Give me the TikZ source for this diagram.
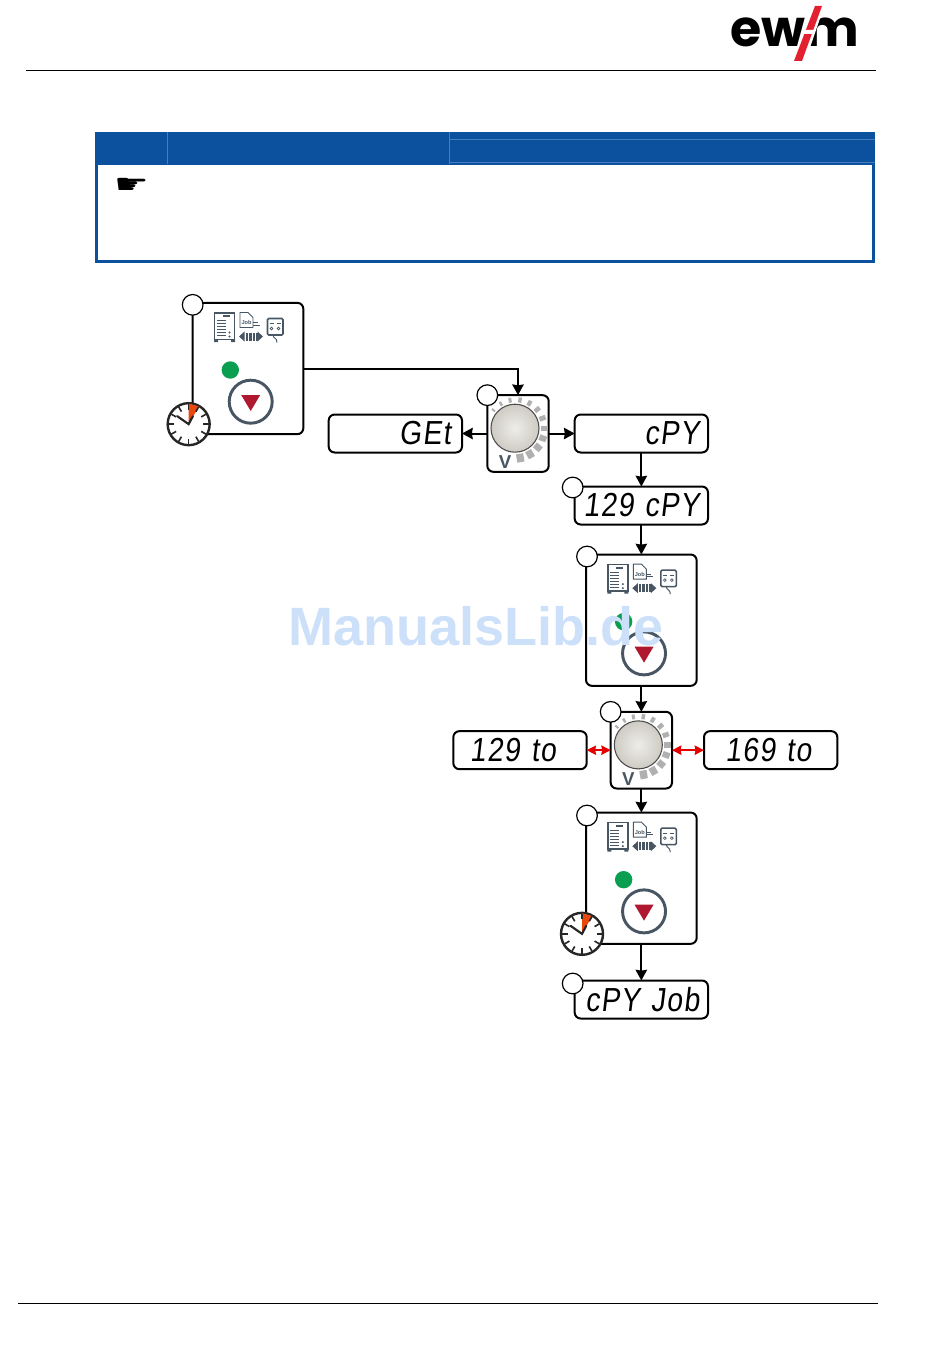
\documentclass[tikz,border=0pt]{standalone}
\usepackage{fontspec}
\usepackage{xcolor}
\usepackage{tikz}
\usetikzlibrary{arrows.meta,positioning,calc}
\setmainfont{Liberation Sans}
\newfontfamily\lcdfont[FakeStretch=0.85,FakeSlant=0.12,LetterSpace=4]{Liberation Sans}
\newfontfamily\handfont[FakeStretch=1.45]{DejaVu Sans}
\newfontfamily\logofont{Poppins}
\definecolor{headblue}{RGB}{11,81,158}
\definecolor{headline}{RGB}{70,125,190}
\definecolor{iconcol}{RGB}{72,86,100}
\definecolor{ledgreen}{RGB}{10,158,80}
\definecolor{btnred}{RGB}{176,24,47}
\definecolor{wedge}{RGB}{232,72,12}
\definecolor{logored}{RGB}{226,32,48}
\definecolor{wmblue}{RGB}{205,224,250}
\definecolor{knobin}{RGB}{238,237,232}
\definecolor{knobout}{RGB}{205,203,195}
\newcommand{\panelicons}[1]{%
  \begin{scope}[shift={(#1.center)}]
    \draw[iconline] (-33.5,-55.5) rectangle (-13.5,-29);
    \fill[iconcol] (-34,-29) rectangle (-30,-26.5) (-17,-29) rectangle (-13,-26.5);
    \fill[iconcol] (-25,-53.5) rectangle (-18,-51.5);
    \foreach \y in {-48,-45,-42,-39,-36,-33} \draw[iconcol, line width=.85pt] (-31,\y) -- (-22,\y);
    \fill[iconcol] (-18.5,-36) circle (1.1) (-18.5,-32) circle (1.1);
    \draw[iconline, line width=.7pt] (-8,-56) -- (0,-56) -- (5,-51) -- (5,-41) -- (-8,-41) -- cycle;
    \node[font=\bfseries\fontsize{4.2}{4.2}\selectfont, text=iconcol, inner sep=0pt] (#1job) at (-1.5,-46) {Job};
    \draw[iconcol, line width=.6pt] (5,-46) -- (10,-46) (5,-43.5) -- (12,-43.5);
    \fill[iconcol] (-9,-32) -- (-3.5,-37) -- (-3.5,-27) -- cycle (15,-32) -- (9.5,-37) -- (9.5,-27) -- cycle;
    \foreach \x in {-2.5,1,4.5,7.5} \fill[iconcol] (\x,-36) rectangle +(2.5,8);
    \draw[iconline, rounded corners=1pt] (19.5,-50) rectangle (35,-33.5);
    \draw[iconcol, line width=1pt] (22,-45) -- (26,-45) (29,-45) -- (33,-45);
    \draw[iconcol, line width=.5pt] (23.5,-40) circle (1.4) (30.5,-40) circle (1.4);
    \draw[iconcol, line width=.7pt] (25,-33.5) .. controls (25,-30) and (29,-31) .. (29,-26);
    \fill[ledgreen] (-17.7,1.5) circle (8.7);
    \draw[iconcol, line width=2.2pt, fill=white] (2.7,33.2) circle (21.5);
    \fill[btnred] (-6.8,26.5) -- (12.2,26.5) -- (2.7,42.5) -- cycle;
  \end{scope}}
\newcommand{\knobdial}[1]{%
  \begin{scope}[shift={(#1.center)}]
    \foreach \i [evaluate=\i as \a using 220+20*\i, evaluate=\i as \w using 1.5+0.36*\i, evaluate=\i as \o using 30+0.4*\i] in {0,...,11}
      \draw[gray!62, line width=\w pt] ($(-3,-5.3)+(\a:26)$) -- ($(-3,-5.3)+(\a:\o)$);
    \shade[inner color=knobin, outer color=knobout, draw=black!70, line width=.8pt] (-3,-5.3) circle (24);
    \node[font=\bfseries\fontsize{14}{14}\selectfont, text=iconcol, inner sep=0pt] (#1v) at (-13,28.5) {V};
  \end{scope}}
\newcommand{\clockmarks}[1]{%
  \begin{scope}[shift={(#1.center)}]
    \fill[wedge] (0,0) -- (-90:20.5) -- (-60:20.5) -- cycle;
    \foreach \a in {0,30,...,330} \draw[black!85, line width=1.2pt] (\a:20) -- (\a:14.5);
    \draw[black!85, line width=1.6pt, line cap=round] (-145:14) -- (0,0) -- (-62:9);
  \end{scope}}
\begin{document}
\begin{tikzpicture}[x=.75pt, y=-.75pt,
  panel/.style={draw, line width=1.5pt, rounded corners=4.5pt, fill=white, outer sep=0pt,
                minimum width=83pt, minimum height=98.5pt},
  knob/.style={draw, line width=1.5pt, rounded corners=4.5pt, fill=white, outer sep=0pt,
               minimum width=46pt, minimum height=57.5pt},
  lcd/.style={draw, line width=1.5pt, rounded corners=4.5pt, fill=white, outer sep=0pt,
              minimum height=28.5pt, text width=87pt, inner xsep=6.5pt, inner ysep=0pt, align=right,
              font=\lcdfont\fontsize{25}{25}\selectfont},
  badge/.style={circle, draw, line width=.9pt, fill=white, minimum size=15.5pt, inner sep=0pt},
  clockface/.style={circle, draw=black!85, line width=1.8pt, fill=white, minimum size=31.5pt, inner sep=0pt},
  arr/.style={-{Stealth[length=8pt, width=8.5pt, inset=.6pt]}, line width=1.5pt},
  redarr/.style={{Stealth[length=7pt, width=7pt, inset=.6pt]}-{Stealth[length=7pt, width=7pt, inset=.6pt]},
                 red!90!black, line width=1.3pt},
  iconline/.style={draw=iconcol, line width=1.2pt},
  pagerule/.style={line width=.75pt}]
  \useasboundingbox (0,0) rectangle (950,1359);
  \draw[pagerule] (26,71) -- (876,71);
  \draw[pagerule] (18,1303) -- (878,1303);
  \node[font=\logofont\bfseries\fontsize{38}{38}\selectfont, inner sep=0pt] (logotext) at (794.5,32) {ewm};
  \fill[white] (812,4) -- (825,4) -- (805,62) -- (792,62) -- cycle;
  \fill[logored] (815,6) -- (822,6) -- (802,61) -- (794,61) -- cycle;
  \fill[white] (804,30) -- (814,30) -- (812,34) -- (802,34) -- cycle;
  \fill[headblue] (95,132) rectangle (875,164);
  \draw[headblue, line width=2.2pt] (96.5,164) rectangle (873.5,261.5);
  \draw[headline, line width=.5pt] (167,132) -- (167,164) (449,132) -- (449,164) (449,139) -- (875,139) (449,162) -- (875,162);
  \node[font=\handfont\fontsize{20}{20}\selectfont, inner sep=0pt] (hand) at (131.5,186) {☛};

  \node[panel] (pnlA) at (248,368.5) {};
  \node[knob] (knobA) at (518,433.5) {};
  \node[lcd, left=19pt of knobA] (lcdGet) {GEt\kern2pt};
  \node[lcd, right=19.5pt of knobA] (lcdCopy) {cPY};
  \node[lcd, below=25.5pt of lcdCopy] (lcdNum) {129 cPY};
  \node[panel, below=22.5pt of lcdNum] (pnlB) {};
  \node[knob, below=19.5pt of pnlB] (knobB) {};
  \node[lcd, left=18pt of knobB] (lcdFrom) {129 to\kern16.5pt};
  \node[lcd, right=24pt of knobB] (lcdTo) {169 to\kern13pt};
  \node[panel, below=18pt of knobB] (pnlC) {};
  \node[lcd, below=27.5pt of pnlC] (lcdJob) {cPY Job};

  \panelicons{pnlA} \panelicons{pnlB} \panelicons{pnlC}
  \knobdial{knobA} \knobdial{knobB}

  \draw[arr] (pnlA.east) -| (knobA.north);
  \draw[arr] (knobA) -- (lcdGet);
  \draw[arr] (knobA) -- (lcdCopy);
  \draw[arr] (lcdCopy) -- (lcdNum);
  \draw[arr] (lcdNum) -- (pnlB);
  \draw[arr] (pnlB) -- (knobB);
  \draw[arr] (knobB) -- (pnlC);
  \draw[arr] (pnlC) -- (lcdJob);
  \draw[redarr] (lcdFrom) -- (knobB);
  \draw[redarr] (knobB) -- (lcdTo);

  \node[clockface] (clkA) at ($(pnlA.south west)+(-4,-10)$) {};
  \node[clockface] (clkC) at ($(pnlC.south west)+(-4,-10)$) {};
  \clockmarks{clkA} \clockmarks{clkC}

  \node[badge] (numA) at ($(pnlA.north west)+(0,2)$) {};
  \node[badge] (numB) at (knobA.north west) {};
  \node[badge] (numC) at ($(lcdNum.north west)+(-2,1)$) {};
  \node[badge] (numD) at ($(pnlB.north west)+(1,2)$) {};
  \node[badge] (numE) at (knobB.north west) {};
  \node[badge] (numF) at ($(pnlC.north west)+(1,3)$) {};
  \node[badge] (numG) at ($(lcdJob.north west)+(-2,3)$) {};

  \node[font=\bfseries\fontsize{40.5}{40.5}\selectfont, text=wmblue, inner sep=0pt] (wmark) at (476,626) {ManualsLib.de};
\end{tikzpicture}
\end{document}
